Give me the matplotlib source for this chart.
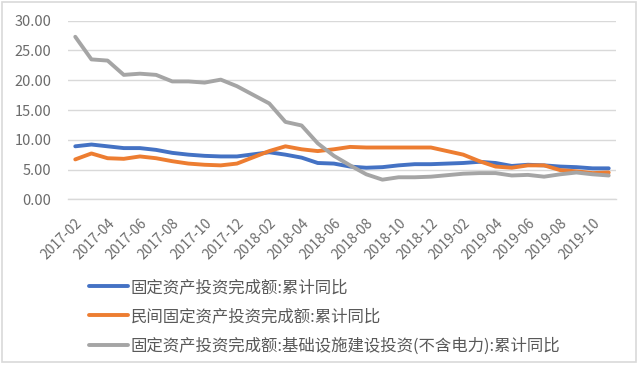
import matplotlib
matplotlib.use("Agg")
import matplotlib.pyplot as plt
from matplotlib.patches import Rectangle

plt.rcParams['font.family'] = ['Noto Sans CJK SC', 'DejaVu Sans']

months = ["2017-02", "2017-03", "2017-04", "2017-05", "2017-06", "2017-07", "2017-08",
          "2017-09", "2017-10", "2017-11", "2017-12",
          "2018-02", "2018-03", "2018-04", "2018-05", "2018-06", "2018-07", "2018-08",
          "2018-09", "2018-10", "2018-11", "2018-12",
          "2019-02", "2019-03", "2019-04", "2019-05", "2019-06", "2019-07", "2019-08",
          "2019-09", "2019-10", "2019-11"]

fai = [8.9, 9.2, 8.9, 8.6, 8.6, 8.3, 7.8, 7.5, 7.3, 7.2, 7.2,
       7.9, 7.5, 7.0, 6.1, 6.0, 5.5, 5.3, 5.4, 5.7, 5.9, 5.9,
       6.1, 6.3, 6.1, 5.6, 5.8, 5.7, 5.5, 5.4, 5.2, 5.2]
private = [6.7, 7.7, 6.9, 6.8, 7.2, 6.9, 6.4, 6.0, 5.8, 5.7, 6.0,
           8.1, 8.9, 8.4, 8.1, 8.4, 8.8, 8.7, 8.7, 8.7, 8.7, 8.7,
           7.5, 6.4, 5.5, 5.3, 5.7, 5.7, 4.9, 4.7, 4.4, 4.5]
infra = [27.3, 23.5, 23.3, 20.9, 21.1, 20.9, 19.8, 19.8, 19.6, 20.1, 19.0,
         16.1, 13.0, 12.4, 9.4, 7.3, 5.7, 4.2, 3.3, 3.7, 3.7, 3.8,
         4.3, 4.4, 4.4, 4.0, 4.1, 3.8, 4.2, 4.5, 4.2, 4.0]

labels = ["固定资产投资完成额:累计同比",
          "民间固定资产投资完成额:累计同比",
          "固定资产投资完成额:基础设施建设投资(不含电力):累计同比"]
colors = ["#4472C4", "#ED7D31", "#A5A5A5"]

tick_labels = ["2017-02", "2017-04", "2017-06", "2017-08", "2017-10", "2017-12",
               "2018-02", "2018-04", "2018-06", "2018-08", "2018-10", "2018-12",
               "2019-02", "2019-04", "2019-06", "2019-08", "2019-10"]
yticks = [0, 5, 10, 15, 20, 25, 30]


def month_index(s):
    y, m = s.split("-")
    return (int(y) - 2017) * 12 + int(m) - 2


x = [month_index(m) for m in months]
tx = [month_index(m) for m in tick_labels]

fig = plt.figure(figsize=(6.4, 3.67), dpi=100)
fig.patch.set_facecolor("white")
fig.add_artist(Rectangle((2 / 640, 5 / 367), 634 / 640, 360 / 367, transform=fig.transFigure,
                         fill=False, edgecolor="#d9d9d9", linewidth=1.2))

ax = fig.add_axes([68 / 640, 1 - 199.3 / 367, 548 / 640, (199.3 - 20.7) / 367])
series = [fai, private, infra]
for vals, lab, col in zip(series, labels, colors):
    ax.plot(x, vals, color=col, lw=2.8, label=lab, solid_capstyle="round", solid_joinstyle="round")

ax.set_xlim(-0.45, 33.45)
ax.set_ylim(0, 30)
ax.set_yticks(yticks)
ax.set_yticklabels([f"{v:.2f}" for v in yticks])
ax.grid(axis="y", color="#d9d9d9", lw=1)
ax.set_axisbelow(True)
for s in ["top", "right", "left"]:
    ax.spines[s].set_visible(False)
ax.spines["bottom"].set_color("#d9d9d9")
ax.spines["bottom"].set_linewidth(1)
ax.set_xticks(tx)
ax.set_xticklabels(tick_labels, rotation=45, ha="right", va="top", rotation_mode="anchor")
ax.tick_params(axis="y", length=0, pad=12, labelsize=10.5, labelcolor="#6b6b6b")
ax.tick_params(axis="x", length=0, pad=12, labelsize=10, labelcolor="#6b6b6b")

handles, labs = ax.get_legend_handles_labels()
leg = fig.legend(handles, labs, loc="upper left", bbox_to_anchor=(89 / 640, 1 - 279 / 367),
                 frameon=False, fontsize=11.8, handlelength=2.35, handletextpad=0.2,
                 labelspacing=0.74, borderaxespad=0, borderpad=0)
for t in leg.get_texts():
    t.set_color("#595959")

fig.savefig("out.png", dpi=100, facecolor="white")
